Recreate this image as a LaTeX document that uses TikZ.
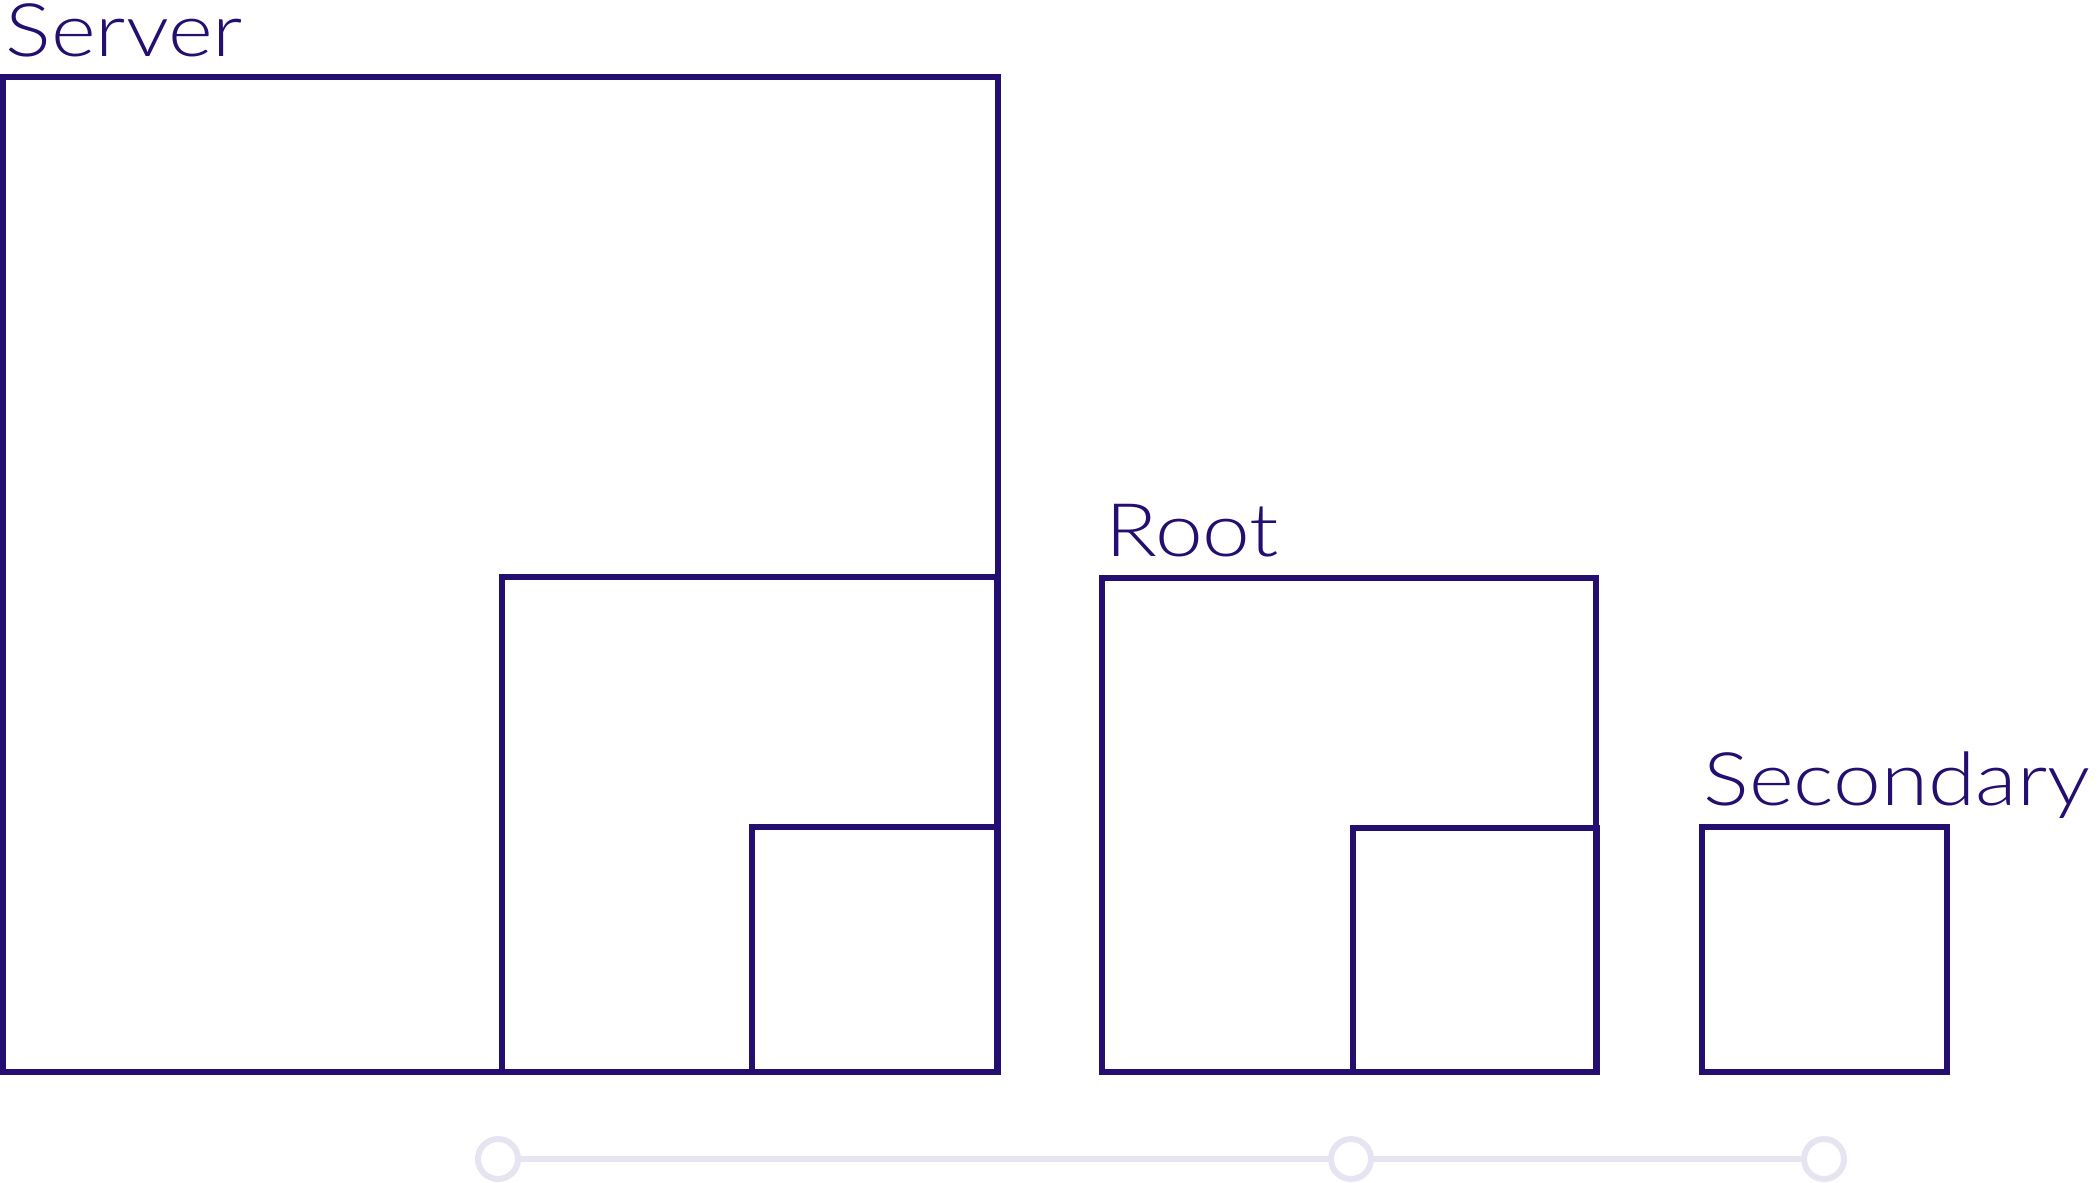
\documentclass[tikz,border=0pt]{standalone}
\usepackage{fontspec}
\setmainfont{Lato}[UprightFont=* Light, FakeStretch=1.16]
\definecolor{ink}{RGB}{36,14,112}
\definecolor{track}{RGB}{230,228,240}

\begin{document}
\begin{tikzpicture}[x=0.01cm, y=-0.01cm,
	box/.style={draw=ink, line width=1.7pt, inner sep=0pt, outer sep=0pt, anchor=south west},
	lbl/.style={text=ink, font=\fontsize{21}{21}\selectfont, inner sep=0pt, anchor=base west},
	dot/.style={circle, draw=track, fill=white, line width=1.7pt, minimum size=0.4cm, inner sep=0pt}]
	\useasboundingbox (0,0) rectangle (2098,1182);
	\node[box, minimum size=9.94cm] (server) at (3,1072) {};
	\node[box, minimum size=4.95cm] (servermid) at (502,1072) {};
	\node[box, minimum size=2.45cm] (serversmall) at (752,1072) {};
	\node[box, minimum size=4.94cm] (root) at (1102,1072) {};
	\node[box, minimum size=2.44cm] (rootsmall) at (1353,1072) {};
	\node[box, minimum size=2.45cm] (secondary) at (1702,1072) {};
	\node[lbl] (serverlbl) at (5,57) {Server};
	\node[lbl] (rootlbl) at (1105,556) {Root};
	\node[lbl] (secondarylbl) at (1703,805) {Secondary};
	\node[dot] (stepa) at (498,1159) {};
	\node[dot] (stepb) at (1351,1159) {};
	\node[dot] (stepc) at (1824,1159) {};
	\draw[track, line width=1.7pt] (stepa) -- (stepb) (stepb) -- (stepc);
\end{tikzpicture}
\end{document}
